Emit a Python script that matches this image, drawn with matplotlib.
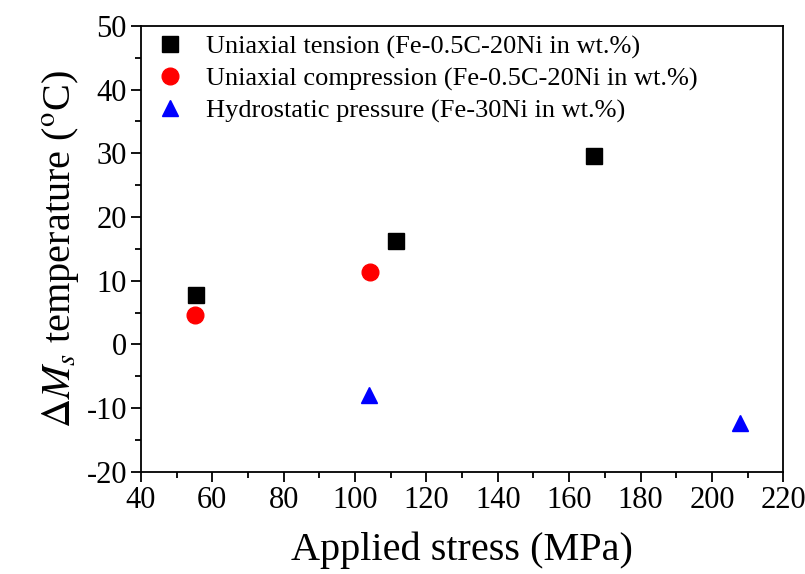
import numpy as np
import matplotlib
matplotlib.use('Agg')
import matplotlib.pyplot as plt
from matplotlib.ticker import MultipleLocator

plt.rcParams['font.family'] = ['Liberation Serif', 'DejaVu Serif']
plt.rcParams['mathtext.fontset'] = 'stix'
plt.rcParams['axes.unicode_minus'] = False

# data
tension_x = [55.5, 111.5, 167.0]
tension_y = [7.8, 16.3, 29.5]
compress_x = [55.2, 104.3]
compress_y = [4.6, 11.3]
hydro_x = [104.0, 208.0]
hydro_y = [-8.0, -12.3]

labels = ['Uniaxial tension (Fe-0.5C-20Ni in wt.%)',
          'Uniaxial compression (Fe-0.5C-20Ni in wt.%)',
          'Hydrostatic pressure (Fe-30Ni in wt.%)']

fig = plt.figure(figsize=(8.05, 5.74), dpi=100)
ax = fig.add_axes([0.175, 0.178, 0.798, 0.777])

ax.plot(tension_x, tension_y, 's', color='black', ms=11, label=labels[0])
ax.plot(compress_x, compress_y, 'o', color='#ff0000', ms=12, label=labels[1])
ax.plot(hydro_x, hydro_y, '^', color='#0000ff', ms=12, label=labels[2])

ax.set_xlim(40, 220)
ax.set_ylim(-20, 50)
ax.xaxis.set_major_locator(MultipleLocator(20))
ax.xaxis.set_minor_locator(MultipleLocator(10))
ax.yaxis.set_major_locator(MultipleLocator(10))
ax.yaxis.set_minor_locator(MultipleLocator(5))
ax.tick_params(which='both', direction='out', top=False, right=False, labelsize=22, width=1.3)
ax.tick_params(which='major', length=7, pad=3)
ax.tick_params(which='minor', length=4)
for s in ax.spines.values():
    s.set_linewidth(1.3)

ax.set_xlabel('Applied stress (MPa)', fontsize=29, labelpad=12)
ax.set_ylabel(r'$\Delta M_s$ temperature ($^{\rm o}$C)', fontsize=29, labelpad=4)

ax.legend(loc='upper left', frameon=False, fontsize=19, handletextpad=0.6,
          borderaxespad=0.1, labelspacing=0.3, handlelength=1.5, borderpad=0.25)

plt.savefig('out.png', dpi=100)
